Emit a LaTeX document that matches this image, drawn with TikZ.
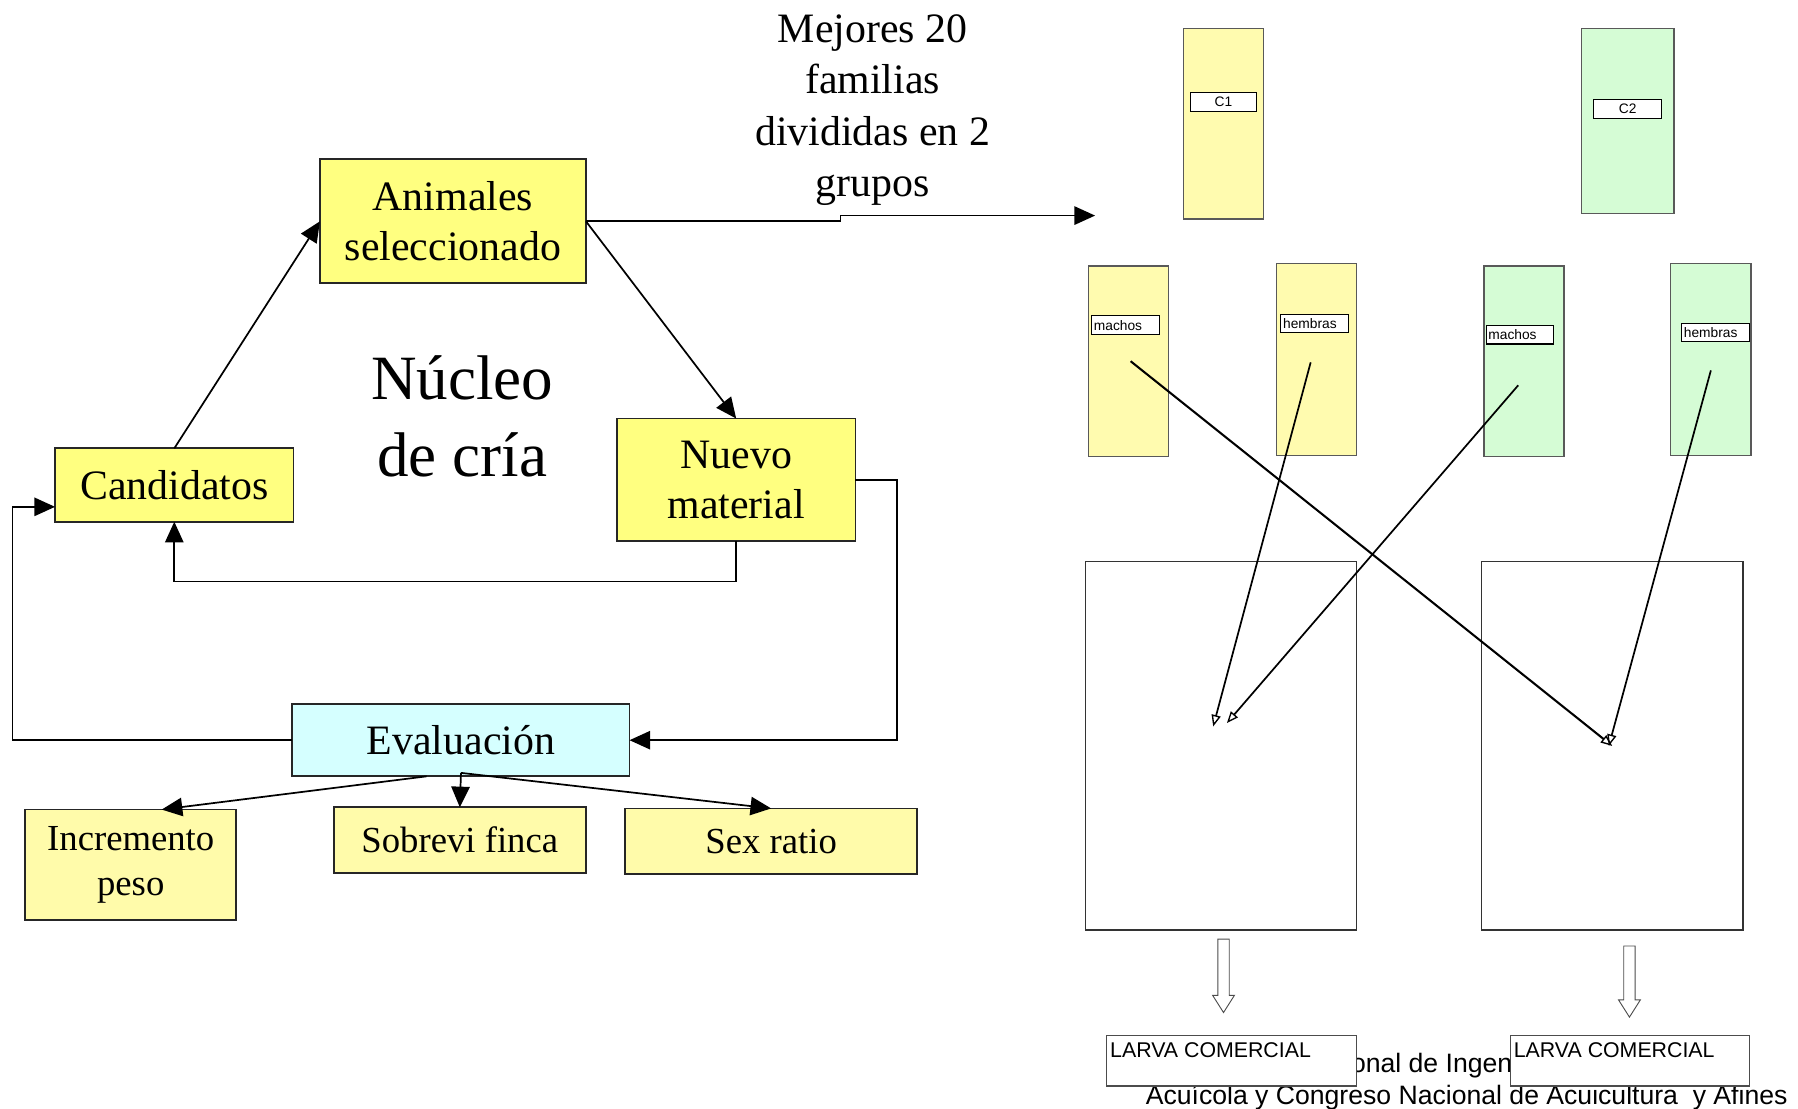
\documentclass[tikz,border=0pt]{standalone}
\usepackage{fontspec}
\setmainfont{Liberation Serif}
\newfontfamily\arialf{Liberation Sans}
\usetikzlibrary{arrows.meta,calc}
\definecolor{ybright}{HTML}{FFFF80}
\definecolor{ylight}{HTML}{FFFBAA}
\definecolor{ypale}{HTML}{FFFBAF}
\definecolor{gpale}{HTML}{D5FCD5}
\definecolor{cpale}{HTML}{D5FFFF}
\begin{document}
\begin{tikzpicture}[x=1pt,y=-1pt,
  mainbox/.style={draw=black!85, line width=1.6pt, inner sep=0pt, outer sep=0pt, align=center, font=\fontsize{36.5}{44}\selectfont},
  subbox/.style={draw=black!85, line width=1.6pt, inner sep=0pt, outer sep=0pt, align=center, fill=ylight, font=\fontsize{32}{39}\selectfont},
  conn/.style={line width=1.5pt, -{Triangle[length=18pt,width=16pt]}},
  tank/.style={draw=black!65, line width=1.2pt, inner sep=0pt, outer sep=0pt},
  lbl/.style={draw=black, line width=1pt, fill=white, inner ysep=0pt, inner xsep=2pt, outer sep=0pt, minimum height=16pt, text width=55pt, align=left, font=\arialf\fontsize{12}{14}\selectfont},
  clbl/.style={draw=black, line width=1pt, fill=white, inner sep=0pt, outer sep=0pt, minimum height=16pt, align=center, font=\arialf\fontsize{12}{14}\selectfont},
  cross/.style={line width=1.8pt, -{Triangle[open,length=10pt,width=8pt,line width=1.2pt]}},
  pond/.style={draw=black!80, line width=1pt, inner sep=0pt, outer sep=0pt},
  larva/.style={draw=black!70, line width=1pt, fill=white, inner sep=0pt, outer sep=0pt},
  ftext/.style={font=\arialf\fontsize{23.2}{28}\selectfont, inner sep=0pt},
]
\useasboundingbox (0,0) rectangle (1568,967);

% ---------------- left part ----------------
\node[font=\fontsize{36.5}{45}\selectfont, align=center] (mej) at (761,96) {Mejores 20\\familias\\divididas en 2\\grupos};
\node[font=\fontsize{55}{67}\selectfont, align=center] (nuc) at (403,363) {Núcleo\\de cría};

\node[mainbox, fill=ybright, minimum width=232pt, minimum height=108pt] (anim) at (395,193) {Animales\\seleccionado};
\node[mainbox, fill=ybright, minimum width=208pt, minimum height=64pt] (cand) at (152,423) {Candidatos};
\node[mainbox, fill=ybright, minimum width=208pt, minimum height=107pt] (nuevo) at (642,418.5) {Nuevo\\material};
\node[mainbox, fill=cpale, minimum width=294pt, minimum height=63pt] (eval) at (402,645.5) {Evaluación};
\node[subbox, minimum width=184pt, minimum height=96pt] (incr) at (114,754) {Incremento\\peso};
\node[subbox, minimum width=220pt, minimum height=57pt] (sobre) at (401,732.5) {Sobrevi finca};
\node[subbox, minimum width=255pt, minimum height=57pt] (sex) at (672.5,733.5) {Sex ratio};

\coordinate (mejend) at (955,188);
\draw[conn] (cand.north) -- (anim.west);
\draw[conn] (anim.east) -- (nuevo.north);
\draw[conn] (anim.east) -- (733,193) -- (733,188) -- (mejend);
\draw[conn] (nuevo.south) -- ++(0,35) -| (cand.south);
\draw[conn] (nuevo.east) -- ++(36,0) |- (eval.east);
\draw[conn] (eval.west) -| ($(cand.west)+(-37,19)$) -- ($(cand.west)+(0,19)$);
\coordinate (ev1) at ($(eval.south)+(0,-3)$);
\draw[conn] ($(eval.south)+(-30,0)$) -- ($(incr.north)+(27,0)$);
\draw[conn] (ev1) -- (sobre.north);
\draw[conn] (ev1) -- (sex.north);

% ---------------- right part ----------------
\node[tank, fill=ypale, minimum width=70pt, minimum height=166pt] (c1) at (1067,108) {};
\node[clbl, minimum width=58pt] (c1l) at (1067,89) {C1};
\node[tank, fill=gpale, minimum width=81pt, minimum height=161pt] (c2) at (1419.5,105.5) {};
\node[clbl, minimum width=59pt] (c2l) at (1419.5,95) {C2};

\node[tank, fill=ypale, minimum width=70pt, minimum height=166pt] (m1) at (984,315) {};
\node[lbl] (m1l) at (981.5,283.5) {machos};
\node[tank, fill=ypale, minimum width=70pt, minimum height=167pt] (h1) at (1148,313.5) {};
\node[lbl] (h1l) at (1146.5,282) {hembras};
\node[tank, fill=gpale, minimum width=70pt, minimum height=166pt] (m2) at (1329,315) {};
\node[lbl] (m2l) at (1325.5,292) {machos};
\node[tank, fill=gpale, minimum width=70pt, minimum height=167pt] (h2) at (1492,313.5) {};
\node[lbl] (h2l) at (1496,290) {hembras};

\node[pond, minimum width=236pt, minimum height=321pt] (big1) at (1065,650.5) {};
\node[pond, minimum width=228pt, minimum height=321pt] (big2) at (1406,650.5) {};

\draw[cross] ($(m1.center)+(2,0)$) -- (big2.center);
\draw[cross, line width=1.5pt] ($(h1.center)+(-5,2.5)$) -- ($(big1.center)+(-7,-17)$);
\draw[cross, line width=1.5pt] ($(m2.center)+(-5,21)$) -- ($(big1.center)+(5,-20)$);
\draw[cross, line width=1.5pt] ($(h2.center)+(0,9.5)$) -- ($(big2.center)+(-3,0)$);

% block arrows
\coordinate (ba1) at (1067,819);
\coordinate (ba2) at (1421,825);
\draw[black!70, line width=0.8pt, fill=white] (ba1) ++(-5,0) -- ++(10,0) -- ++(0,49) -- ++(4.5,0) -- ++(-9.5,15) -- ++(-9.5,-15) -- ++(4.5,0) -- cycle;
\draw[black!70, line width=0.8pt, fill=white] (ba2) ++(-5,0) -- ++(10,0) -- ++(0,47) -- ++(4.5,0) -- ++(-9.5,15) -- ++(-9.5,-15) -- ++(4.5,0) -- cycle;

% footer (partly covered by the boxes)
\node[ftext, anchor=base west] (foot1) at (1178,935) {onal de Ingen};
\node[ftext, anchor=base west] (foot2) at (999,963) {Acuícola y Congreso Nacional de Acuicultura\ \ y Afines};

% larva boxes
\node[larva, minimum width=218pt, minimum height=44pt] (larva1) at (1074,925) {};
\node[anchor=north west, inner sep=0pt, font=\arialf\fontsize{18.6}{22}\selectfont] (lt1) at ($(larva1.north west)+(3,6)$) {LARVA COMERCIAL};
\node[larva, minimum width=209pt, minimum height=44pt] (larva2) at (1421.5,925) {};
\node[anchor=north west, inner sep=0pt, font=\arialf\fontsize{18.6}{22}\selectfont] (lt2) at ($(larva2.north west)+(3,6)$) {LARVA COMERCIAL};
\end{tikzpicture}
\end{document}
